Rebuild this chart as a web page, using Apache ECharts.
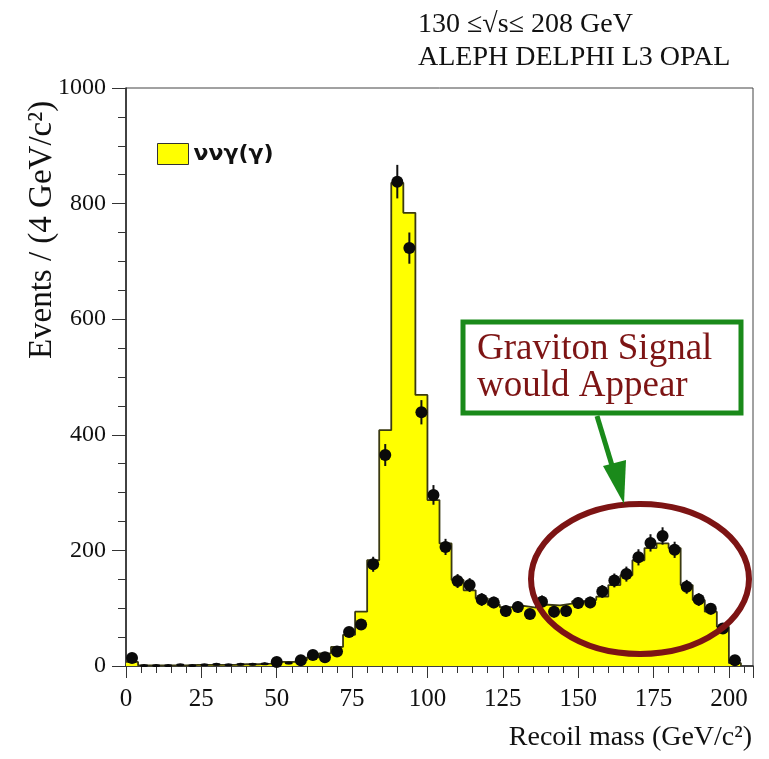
<!DOCTYPE html>
<html>
<head>
<meta charset="utf-8">
<script src="https://cdn.jsdelivr.net/npm/echarts@6/dist/echarts.min.js"></script>
<style>
  html, body { margin: 0; padding: 0; background: #ffffff; }
  #chart { width: 769px; height: 759px; }
</style>
</head>
<body>
<div id="chart"></div>
<script>
// ---- data ----
// histogram: 4 GeV bins starting at 0 GeV (bin lower edges)
const binEdges = [0,4,8,12,16,20,24,28,32,36,40,44,48,52,56,60,64,68,72,76,80,84,88,92,96,100,
  104,108,112,116,120,124,128,132,136,140,144,148,152,156,160,164,168,172,176,180,184,188,192,196,200,204];
// Monte Carlo expectation (yellow histogram), one value per bin
const mcValues = [7,1,1,1,1,2,2,2,2,3,3,4,7,7,10,15,22,33,54,94,183,408,836,784,469,287,
  212,149,131,117,106,102,104,101,106,105,108,112,114,120,140,157,183,204,212,204,140,114,94,68,5];
// measured events (points) at bin centres
const dataValues = [14,1,1,1,2,1,2,3,2,3,3,4,7,5,10,19,15,25,59,72,176,365,838,723,439,296,
  206,147,140,115,110,95,102,90,111,94,95,109,110,129,148,159,188,213,225,201,137,115,99,65,10];
const dataErrors = [4,1,1,1,1,1,1,2,1,2,2,2,3,2,3,4,4,5,8,8,13,19,29,27,21,17,
  14,12,12,11,10,10,10,9,11,10,10,10,10,11,12,13,14,15,15,14,12,11,10,8,3];
const xTicks = [0,25,50,75,100,125,150,175,200];
const yTicks = [0,200,400,600,800,1000];
const seriesName = 'ννγ(γ)';

// ---- build series data ----
const histData = mcValues.map((v, i) => [binEdges[i], v]);
histData.push([binEdges[mcValues.length], 0]);
const pointData = dataValues.map((v, i) => [(binEdges[i] + binEdges[i + 1]) / 2, v]);
const errData = dataValues.map((v, i) => [(binEdges[i] + binEdges[i + 1]) / 2, v - dataErrors[i], v + dataErrors[i]]);

const serif = '"Liberation Serif", "DejaVu Serif", serif';
const chart = echarts.init(document.getElementById('chart'), null, { renderer: 'canvas' });

chart.setOption({
  animation: false,
  backgroundColor: '#ffffff',
  grid: { left: 126, right: 16, top: 88, bottom: 93, show: true, borderColor: '#444', borderWidth: 1, backgroundColor: 'transparent' },
  legend: {
    left: 152, top: 138,
    itemWidth: 31, itemHeight: 21, itemGap: 10,
    icon: 'rect',
    data: [{ name: seriesName, icon: 'rect' }],
    itemStyle: { color: '#ffff00', borderColor: '#333', borderWidth: 1 },
    lineStyle: { width: 0 },
    textStyle: { fontFamily: '"DejaVu Sans", sans-serif', fontWeight: 'bold', fontSize: 22, color: '#111' }
  },
  xAxis: {
    type: 'value', min: xTicks[0], max: 208, interval: 25,
    axisLine: { show: true, onZero: false, lineStyle: { color: '#222', width: 1.5 } },
    axisTick: { show: true, inside: false, length: 12, lineStyle: { color: '#333', width: 1 } },
    minorTick: { show: true, splitNumber: 5, length: 7, lineStyle: { color: '#333', width: 1 } },
    splitLine: { show: false },
    axisLabel: { show: true, margin: 21, fontFamily: serif, fontSize: 25, color: '#111', showMaxLabel: false,
      formatter: v => (xTicks.indexOf(v) >= 0 ? String(v) : '') }
  },
  yAxis: {
    type: 'value', min: yTicks[0], max: yTicks[yTicks.length - 1], interval: 200,
    axisLine: { show: true, onZero: false, lineStyle: { color: '#222', width: 1.5 } },
    axisTick: { show: true, inside: false, length: 14, lineStyle: { color: '#333', width: 1 } },
    minorTick: { show: true, splitNumber: 4, length: 8, lineStyle: { color: '#333', width: 1 } },
    splitLine: { show: false },
    axisLabel: { show: true, margin: 20, fontFamily: serif, fontSize: 24, color: '#111',
      formatter: v => String(v) }
  },
  series: [
    {
      name: seriesName, type: 'line', step: 'end', data: histData,
      symbol: 'none', z: 2,
      itemStyle: { color: '#ffff00', borderColor: '#333', borderWidth: 1 },
      lineStyle: { color: '#3b3a12', width: 1.8 },
      areaStyle: { color: '#ffff00', opacity: 1 }
    },
    {
      name: 'errors', type: 'custom', z: 3, silent: true,
      data: errData,
      renderItem: function (params, api) {
        const lo = api.coord([api.value(0), api.value(1)]);
        const hi = api.coord([api.value(0), api.value(2)]);
        return { type: 'line', shape: { x1: lo[0], y1: lo[1], x2: hi[0], y2: hi[1] },
          style: { stroke: '#111', lineWidth: 2 } };
      }
    },
    {
      name: 'data', type: 'scatter', z: 4, data: pointData,
      symbol: 'circle',
      symbolSize: function (val) { return val[1] < 6 ? [8, 3] : 12; },
      itemStyle: { color: '#0a0a0a', opacity: 1 }
    }
  ],
  graphic: [
    { type: 'text', left: 418, top: 11, z: 10,
      style: { text: '130 ≤√s≤ 208 GeV', fontFamily: serif, fontSize: 28, fill: '#111' } },
    { type: 'text', left: 418, top: 44, z: 10,
      style: { text: 'ALEPH DELPHI L3 OPAL', fontFamily: serif, fontSize: 28, fill: '#111' } },
    { type: 'text', x: 42, y: 230, rotation: Math.PI / 2, z: 10,
      style: { text: 'Events / (4 GeV/c²)', fontFamily: serif, fontSize: 33, fill: '#111', align: 'center', verticalAlign: 'middle' } },
    { type: 'text', x: 752, y: 738, z: 10,
      style: { text: 'Recoil mass (GeV/c²)', fontFamily: serif, fontSize: 28, fill: '#111', align: 'right', verticalAlign: 'middle' } },
    { type: 'ellipse', z: 20, shape: { cx: 640, cy: 579, rx: 109, ry: 75 },
      style: { fill: 'none', stroke: '#7d1414', lineWidth: 6 } },
    { type: 'rect', z: 20, shape: { x: 463, y: 322, width: 278, height: 91 },
      style: { fill: '#ffffff', stroke: '#1a8a1a', lineWidth: 5 } },
    { type: 'text', x: 477, y: 349, z: 21,
      style: { text: 'Graviton Signal', fontFamily: serif, fontSize: 37, fill: '#7d1414', verticalAlign: 'middle' } },
    { type: 'text', x: 477, y: 386, z: 21,
      style: { text: 'would Appear', fontFamily: serif, fontSize: 37, fill: '#7d1414', verticalAlign: 'middle' } },
    { type: 'line', z: 20, shape: { x1: 597, y1: 416, x2: 614, y2: 472 },
      style: { stroke: '#1a8a1a', lineWidth: 5 } },
    { type: 'polygon', z: 20, shape: { points: [[603, 466], [626, 460], [624, 504]] },
      style: { fill: '#1a8a1a' } }
  ]
});
</script>
</body>
</html>
